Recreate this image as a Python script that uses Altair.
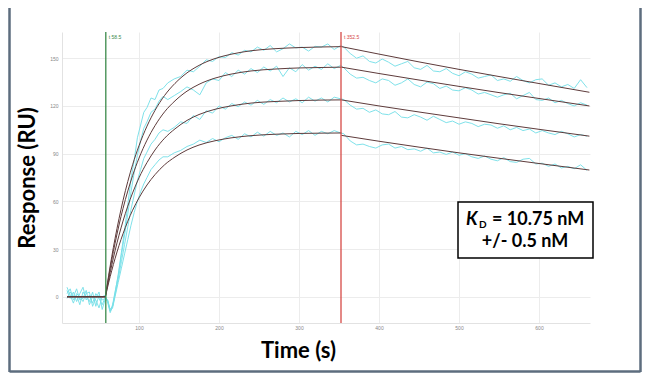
import altair as alt
import pandas as pd

# ---------------- data ----------------
X_TICKS = [100, 200, 300, 400, 500, 600]
Y_TICKS = [0, 30, 60, 90, 120, 150]

INJECT_T = 58.5
STOP_T = 352.5

# sampled measurement times (s)
T_PRE = [10, 14, 18, 22, 26, 30, 34, 38, 42, 46, 50, 54, 58]
T_EARLY = [61, 64, 67, 70, 74, 78, 82, 86, 90, 94, 98, 102, 106, 110, 115, 120, 125, 130]
T_PLAT = [136, 144, 152, 160, 168, 176, 184, 192, 200, 208, 216, 224, 232, 240,
          248, 256, 264, 272, 280, 288, 296, 304, 312, 320, 328, 336, 344, 352]
T_DISS = [356, 364, 372, 380, 388, 396, 404, 412, 420, 428, 436, 444, 452, 460,
          468, 476, 484, 492, 500, 508, 516, 524, 532, 540, 548, 556, 564, 572,
          580, 588, 596, 604, 612, 620, 628, 636, 644, 652, 660]

# measured responses (RU), cyan traces
C1_PRE = [4, -1, 3, -3, 2, 6, -2, 1, -4, 2, -1, -5, 0]
C1_EARLY = [-3, -8, -6, 2, 14, 28, 42, 58, 74, 86, 100, 108, 116, 119, 125, 124, 130, 131]
C1_PLAT = [134.5, 137, 138.5, 142.5, 141.5, 145, 149, 148, 151, 150.5, 153.5, 152, 155, 154,
           157, 155, 158, 154, 156, 159, 156.5, 157, 154.5, 157.5, 157, 159, 155.5, 158]
C1_DISS = [157, 153, 150, 151.5, 148, 147, 149.5, 147.5, 145, 146.5, 148, 144, 143, 145.5,
           142, 141.5, 143.5, 140.5, 139, 141.5, 140, 137.5, 138.5, 139.5, 136, 137, 135.5, 138.5,
           136, 134.5, 136.5, 137, 133, 134.5, 132, 133.5, 131, 136.5, 131.5]

C2_PRE = [2, 5, -2, 1, -5, 3, 0, -3, 3, -6, 1, -2, -1]
C2_EARLY = [-2, -9, -5, 3, 13, 26, 39, 52, 66, 78, 89, 98, 106, 110, 116, 118, 123, 126]
C2_PLAT = [124, 126.5, 129, 132, 130, 127, 134.5, 137, 136, 141, 138.5, 142.5, 140, 143.5,
           141, 144.5, 142, 145, 138.5, 144, 141.5, 146, 142.5, 145, 143, 146.5, 143.5, 145.5]
C2_DISS = [144, 140, 137.5, 138, 136, 134.5, 137, 136, 133, 134.5, 137, 133.5, 132, 135,
           134, 131, 132.5, 130, 129.5, 131.5, 130, 127.5, 128.5, 127, 125.5, 127, 128, 124.5,
           126.5, 128.5, 124, 123.5, 125, 122, 123.5, 121.5, 120, 122, 120.5]

C3_PRE = [-1, 3, 0, 5, -2, -1, 4, -5, 0, -2, -7, 0, 1]
C3_EARLY = [-4, -10, -6, 1, 11, 22, 33, 44, 55, 64, 73, 80, 87, 91, 96, 99, 103, 105]
C3_PLAT = [104, 106.5, 110, 109, 114, 111.5, 117, 115.5, 120, 118, 121.5, 119.5, 122.5, 120.5,
           123.5, 121, 124, 122, 125, 122.5, 124.5, 122, 125.5, 123, 125, 122.5, 125.5, 124.5]
C3_DISS = [124, 120.5, 118, 118.5, 116, 117.5, 115, 114.5, 116.5, 113, 112.5, 114.5, 113, 111,
           113.5, 111.5, 109.5, 110.5, 108.5, 110, 109, 107, 108.5, 108, 106, 107.5, 105, 106.5,
           104.5, 105.5, 103, 104.5, 103, 102, 104, 102.5, 100.5, 102, 101]

C4_PRE = [6, 1, -4, 2, 0, -3, 2, 3, -6, -1, 3, -8, -1]
C4_EARLY = [-3, -9, -7, 0, 9, 18, 27, 36, 45, 53, 60, 66, 71, 75, 80, 83, 86, 88]
C4_PLAT = [88, 90.5, 92, 94.5, 96, 98.5, 97, 99.5, 97.5, 100, 101.5, 99, 102.5, 100.5,
           103.5, 101, 104, 101.5, 103, 100.5, 104, 102, 104.5, 101.5, 104, 102.5, 104.5, 103]
C4_DISS = [102.5, 98, 95.5, 96, 94.5, 93.5, 95.5, 96, 93.5, 94.5, 92.5, 93, 91.5, 93.5,
           90.5, 91, 89.5, 91, 89, 90, 88, 87, 88.5, 86.5, 85.5, 87.5, 85, 84.5,
           86.5, 87, 83.5, 84, 82, 83.5, 81, 82, 80.5, 83, 79.5]

# fitted curves (read at a few times)
TF_BASE = [10, 58]
TF_ASSOC = [58, 62, 66, 70, 75, 80, 86, 92, 100, 110, 120, 132, 145, 160, 175, 195,
            215, 240, 270, 300, 330, 353]
TF_DISS = [353, 400, 450, 500, 550, 600, 663]

F1_ASSOC = [0, 13.2, 25.4, 36.5, 49.1, 60.5, 72.5, 83.0, 95.0, 107.3, 117.2, 126.6, 134.2,
            140.8, 145.5, 149.8, 152.5, 154.7, 156.0, 156.7, 157.1, 157.3]
F2_ASSOC = [0, 12.1, 23.3, 33.5, 45.1, 55.5, 66.5, 76.2, 87.2, 98.5, 107.6, 116.3, 123.2,
            129.3, 133.6, 137.5, 140.0, 142.0, 143.2, 143.9, 144.2, 144.4]
F3_ASSOC = [0, 10.4, 20.0, 28.8, 38.7, 47.6, 57.0, 65.3, 74.8, 84.4, 92.3, 99.7, 105.6,
            110.9, 114.6, 117.9, 120.0, 121.8, 122.8, 123.4, 123.7, 123.8]
F4_ASSOC = [0, 8.7, 16.6, 23.9, 32.2, 39.6, 47.5, 54.4, 62.2, 70.3, 76.8, 83.0, 87.9,
            92.3, 95.4, 98.1, 99.9, 101.3, 102.2, 102.7, 102.9, 103.0]

F1_DISS = [157.3, 152.6, 147.7, 143.0, 138.5, 134.1, 128.6]
F2_DISS = [144.4, 140.4, 136.3, 132.3, 128.4, 124.7, 120.0]
F3_DISS = [123.8, 120.0, 116.2, 112.5, 108.8, 105.3, 101.0]
F4_DISS = [101.5, 97.8, 94.1, 90.5, 87.1, 83.8, 79.7]

# ---------------- tables ----------------
T_ALL = T_PRE + T_EARLY + T_PLAT + T_DISS
traces = {
    "c1": C1_PRE + C1_EARLY + C1_PLAT + C1_DISS,
    "c2": C2_PRE + C2_EARLY + C2_PLAT + C2_DISS,
    "c3": C3_PRE + C3_EARLY + C3_PLAT + C3_DISS,
    "c4": C4_PRE + C4_EARLY + C4_PLAT + C4_DISS,
}
frames = []
for name, vals in traces.items():
    frames.append(pd.DataFrame({"t": T_ALL, "v": vals, "series": name}))
cyan_df = pd.concat(frames, ignore_index=True)

fit_parts = []
for name, fa, fd in [("c1", F1_ASSOC, F1_DISS), ("c2", F2_ASSOC, F2_DISS),
                     ("c3", F3_ASSOC, F3_DISS), ("c4", F4_ASSOC, F4_DISS)]:
    fit_parts.append(pd.DataFrame({"t": TF_BASE, "v": [0, 0], "seg": name + "_base"}))
    fit_parts.append(pd.DataFrame({"t": TF_ASSOC, "v": fa, "seg": name + "_assoc"}))
    fit_parts.append(pd.DataFrame({"t": TF_DISS, "v": fd, "seg": name + "_diss"}))
fit_df = pd.concat(fit_parts, ignore_index=True)

inject_df = pd.DataFrame({"t": [INJECT_T], "label": ["t 58.5"]})
stop_df = pd.DataFrame({"t": [STOP_T], "label": ["t 352.5"]})
one = pd.DataFrame({"k": [0]})

# ---------------- encodings ----------------
X_ENC = alt.X(
    "t:Q",
    scale=alt.Scale(domain=[3.75, 663.75], nice=False, zero=False),
    axis=alt.Axis(
        values=X_TICKS, title="Time (s)", titleFont="Lato", titleFontSize=22,
        titleFontWeight="bold", titleColor="black", titleX=236, titleY=27,
        titleAlign="center", titleBaseline="middle", labelPadding=2,
    ),
)
Y_ENC = alt.Y(
    "v:Q",
    scale=alt.Scale(domain=[-16.5, 166.5], nice=False, zero=False),
    axis=alt.Axis(
        values=Y_TICKS, title="Response (RU)", titleFont="Lato", titleFontSize=22,
        titleFontWeight="bold", titleColor="black", titleAngle=270, titleX=-35,
        titleY=145.5, titleAlign="center", titleBaseline="middle", labelPadding=4,
    ),
)

CYAN = "#78dfe8"
FIT = "#5e3b3b"
GREEN = "#3b8a4b"
RED = "#d64a46"
FRAME = "#5d6d7e"

cyan_layer = alt.Chart(cyan_df).mark_line(color=CYAN, strokeWidth=1.0, opacity=0.95).encode(
    x=X_ENC, y=Y_ENC, detail="series:N"
)
fit_layer = alt.Chart(fit_df).mark_line(color=FIT, strokeWidth=1.0, interpolate="monotone").encode(
    x=X_ENC, y=Y_ENC, detail="seg:N"
)
inj_rule = alt.Chart(inject_df).mark_rule(color=GREEN, strokeWidth=1.3).encode(x=X_ENC)
stop_rule = alt.Chart(stop_df).mark_rule(color=RED, strokeWidth=1.3).encode(x=X_ENC)
inj_text = alt.Chart(inject_df).mark_text(
    align="left", baseline="middle", dx=3, fontSize=5, color=GREEN
).encode(x=X_ENC, y=alt.value(5), text="label:N")
stop_text = alt.Chart(stop_df).mark_text(
    align="left", baseline="middle", dx=3, fontSize=5, color=RED
).encode(x=X_ENC, y=alt.value(5), text="label:N")

# KD annotation box
box = alt.Chart(one).mark_rect(fill="white", stroke="black", strokeWidth=1.5).encode(
    x=alt.value(396), x2=alt.value(531), y=alt.value(170), y2=alt.value(226)
)
txt_k = alt.Chart(one).mark_text(
    text="K", font="Lato", fontSize=18, fontWeight="bold", fontStyle="italic",
    align="left", baseline="alphabetic", color="black"
).encode(x=alt.value(404), y=alt.value(193))
txt_d = alt.Chart(one).mark_text(
    text="D", font="Lato", fontSize=10, fontWeight="bold",
    align="left", baseline="alphabetic", color="black"
).encode(x=alt.value(417), y=alt.value(196))
txt_val = alt.Chart(one).mark_text(
    text="= 10.75 nM", font="Lato", fontSize=18, fontWeight="bold",
    align="left", baseline="alphabetic", color="black"
).encode(x=alt.value(430), y=alt.value(193))
txt_err = alt.Chart(one).mark_text(
    text="+/- 0.5 nM", font="Lato", fontSize=18, fontWeight="bold",
    align="center", baseline="alphabetic", color="black"
).encode(x=alt.value(463), y=alt.value(215))

# picture frame (left, right, bottom)
frame_l = alt.Chart(one).mark_rule(color=FRAME, strokeWidth=2.5).encode(
    x=alt.value(-52.5), x2=alt.value(-52.5), y=alt.value(-24), y2=alt.value(340)
)
frame_r = alt.Chart(one).mark_rule(color=FRAME, strokeWidth=2.5).encode(
    x=alt.value(578.5), x2=alt.value(578.5), y=alt.value(-24), y2=alt.value(340)
)
frame_b = alt.Chart(one).mark_rule(color=FRAME, strokeWidth=2.5).encode(
    x=alt.value(-52.5), x2=alt.value(578.5), y=alt.value(339.5), y2=alt.value(339.5)
)

chart = alt.layer(
    cyan_layer, fit_layer, inj_rule, stop_rule, inj_text, stop_text,
    box, txt_k, txt_d, txt_val, txt_err, frame_l, frame_r, frame_b,
).properties(
    width=528,
    height=291,
    autosize=alt.AutoSizeParams(type="none"),
    padding={"left": 54, "top": 24, "right": 52, "bottom": 50},
    background="white",
).configure_view(
    stroke=None
).configure_axis(
    gridColor="#ececec",
    gridWidth=1,
    domainColor="#e2e2e2",
    tickSize=0,
    labelFontSize=5,
    labelColor="#888888",
    labelFont="Liberation Sans",
)

chart.save("out.html", embed_options={"renderer": "svg", "actions": False})
